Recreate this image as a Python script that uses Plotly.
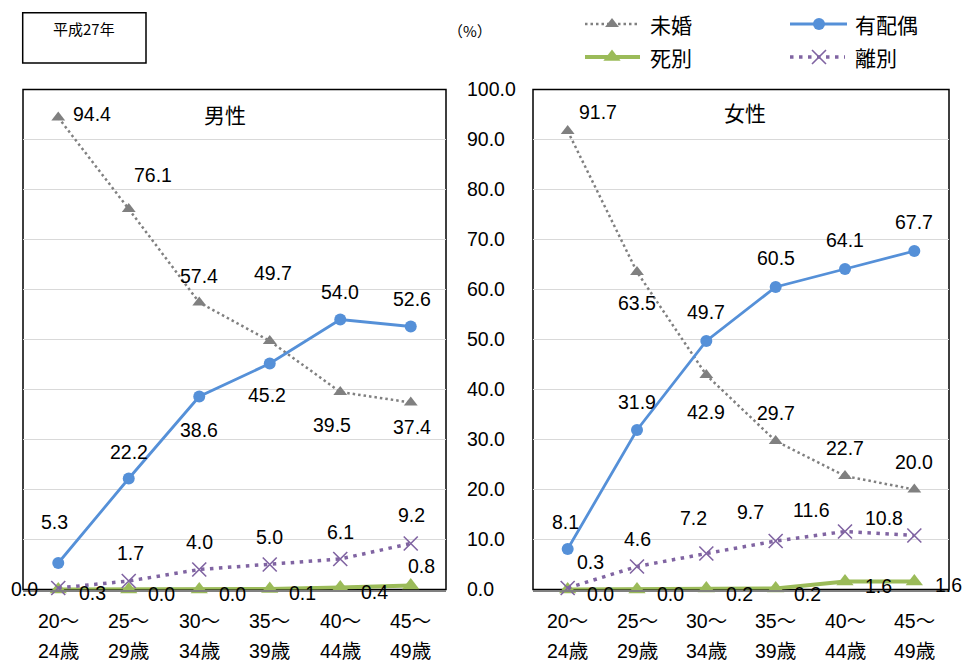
import plotly.graph_objects as go

# ---- data -------------------------------------------------------------
age_line1 = ["20～", "25～", "30～", "35～", "40～", "45～"]
age_line2 = ["24歳", "29歳", "34歳", "39歳", "44歳", "49歳"]

male_unmarried = [94.4, 76.1, 57.4, 49.7, 39.5, 37.4]
male_married = [5.3, 22.2, 38.6, 45.2, 54.0, 52.6]
male_widowed = [0.0, 0.0, 0.0, 0.1, 0.4, 0.8]
male_divorced = [0.3, 1.7, 4.0, 5.0, 6.1, 9.2]

female_unmarried = [91.7, 63.5, 42.9, 29.7, 22.7, 20.0]
female_married = [8.1, 31.9, 49.7, 60.5, 64.1, 67.7]
female_widowed = [0.0, 0.0, 0.2, 0.2, 1.6, 1.6]
female_divorced = [0.3, 4.6, 7.2, 9.7, 11.6, 10.8]

series_names = ["未婚", "有配偶", "死別", "離別"]
y_ticks = [0, 10, 20, 30, 40, 50, 60, 70, 80, 90, 100]

# ---- styling ------------------------------------------------------------
W, H = 972, 661
NUM_FONT = "Liberation Sans, Arial, Noto Sans CJK JP, sans-serif"
JP_FONT = "Noto Sans CJK JP, sans-serif"

GRAY = "#808080"
BLUE = "#5590D8"
GREEN = "#9BBB59"
PURPLE = "#8064A2"

styles = {
    "未婚": dict(line=dict(color=GRAY, width=2.5, dash="2.5px,3px"),
               marker=dict(symbol="triangle-up", size=12, color=GRAY)),
    "有配偶": dict(line=dict(color=BLUE, width=2.8),
                marker=dict(symbol="circle", size=12, color=BLUE)),
    "死別": dict(line=dict(color=GREEN, width=4),
               marker=dict(symbol="triangle-up", size=15, color=GREEN)),
    "離別": dict(line=dict(color=PURPLE, width=3.5, dash="3.5px,5.5px"),
               marker=dict(symbol="x-thin-open", size=14, color=PURPLE,
                           line=dict(color=PURPLE, width=1.6))),
}

# label offsets in pixels (dx right, dy down) relative to each point
male_offsets = {
    "未婚": [(34, -4), (24, -34), (0, -27), (3, -68), (-8, 33), (1, 24)],
    "有配偶": [(-4, -41), (0, -27), (0, 33), (-3, 31), (0, -28), (1, -28)],
    "死別": [(-34, -1), (33, 4), (33, 4), (33, 4), (34, 4), (11, -20)],
    "離別": [(34, 5), (2, -28), (0, -28), (0, -28), (0, -27), (1, -29)],
}
female_offsets = {
    "未婚": [(30, -19), (0, 31), (0, 37), (0, -28), (0, -28), (0, -28)],
    "有配偶": [(-2, -27), (0, -28), (0, -29), (0, -29), (0, -29), (0, -29)],
    "死別": [(33, 4), (33, 4), (33, 5), (32, 5), (33, 4), (34, 3)],
    "離別": [(23, -26), (0, -28), (-13, -36), (-25, -29), (-34, -22), (-30, -18)],
}


def px(x):
    return x / W


def py(y):
    return 1 - y / H


def paper_text(x, y, text, family, size, xanchor="center"):
    return dict(x=px(x), y=py(y), xref="paper", yref="paper", text=text,
                showarrow=False, xanchor=xanchor, yanchor="middle",
                font=dict(family=family, size=size, color="black"))


y_dom = [py(589.5), py(89.5)]
male_dom = [px(23), px(446)]
female_dom = [px(533), px(949)]

fig = go.Figure()

panels = [
    ("x", "y", dict(zip(series_names, [male_unmarried, male_married, male_widowed, male_divorced])), male_offsets),
    ("x2", "y2", dict(zip(series_names, [female_unmarried, female_married, female_widowed, female_divorced])), female_offsets),
]

annotations = []
draw_order = ["死別", "離別", "未婚", "有配偶"]
cats = list(range(len(age_line1)))

for xa, ya, data, offsets in panels:
    for name in draw_order:
        st = styles[name]
        fig.add_trace(go.Scatter(
            x=cats, y=data[name], mode="lines+markers", name=name,
            xaxis=xa, yaxis=ya, line=st["line"], marker=st["marker"],
            cliponaxis=False, showlegend=False, hoverinfo="skip",
        ))
    for name in series_names:
        for i, v in enumerate(data[name]):
            dx, dy = offsets[name][i]
            annotations.append(dict(
                x=i, y=v, xref=xa, yref=ya, text=f"{v:.1f}", showarrow=False,
                xshift=dx, yshift=-dy, xanchor="center", yanchor="middle",
                font=dict(family=NUM_FONT, size=19.5, color="black"),
            ))
    # category labels, two lines each
    for i in cats:
        for txt, yy in ((age_line1[i], 621), (age_line2[i], 651)):
            annotations.append(dict(x=i, y=py(yy), xref=xa, yref="paper", text=txt,
                                    showarrow=False, xanchor="center", yanchor="middle",
                                    font=dict(family=NUM_FONT, size=19.5, color="black")))

# panel titles, year box text and unit
annotations.append(paper_text(225, 114, "男性", JP_FONT, 21))
annotations.append(paper_text(745, 112, "女性", JP_FONT, 21))
annotations.append(paper_text(84, 29, "平成27年", JP_FONT, 15))
annotations.append(paper_text(470, 30, "（%）", JP_FONT, 15))

# legend, drawn on a pixel-mapped overlay axis
legend_items = [
    ("未婚", 585, 640, 24, 612, 648),
    ("有配偶", 790, 847, 24, 819, 853),
    ("死別", 585, 640, 57, 612, 648),
    ("離別", 790, 845, 57, 819, 853),
]
for name, x0, x1, yy, xm, xt in legend_items:
    st = styles[name]
    fig.add_trace(go.Scatter(x=[x0, x1], y=[yy, yy], mode="lines", line=st["line"],
                             xaxis="x3", yaxis="y3", showlegend=False, hoverinfo="skip"))
    fig.add_trace(go.Scatter(x=[xm], y=[yy], mode="markers", marker=st["marker"],
                             xaxis="x3", yaxis="y3", showlegend=False, hoverinfo="skip"))
    annotations.append(dict(x=xt, y=yy, xref="x3", yref="y3", text=name, showarrow=False,
                            xanchor="left", yanchor="middle",
                            font=dict(family=JP_FONT, size=21, color="black")))

shapes = [
    dict(type="rect", xref="paper", yref="paper", x0=px(22.7), x1=px(146), y0=py(63), y1=py(12.7),
         line=dict(color="black", width=1.5)),
    dict(type="rect", xref="x domain", yref="y domain", x0=0, x1=1, y0=0, y1=1,
         line=dict(color="black", width=1.5), layer="below"),
    dict(type="rect", xref="x2 domain", yref="y2 domain", x0=0, x1=1, y0=0, y1=1,
         line=dict(color="black", width=1.5), layer="below"),
]

cat_axis = dict(range=[-0.5, 5.5], showgrid=False, showticklabels=False, zeroline=False,
                showline=True, linecolor=GRAY, linewidth=1.5, ticks="", fixedrange=True,
                automargin=False)
val_axis = dict(range=[0, 100], tickvals=y_ticks, showgrid=True, gridcolor="#D9D9D9",
                gridwidth=1.2, zeroline=False, showline=False, fixedrange=True,
                automargin=False)

fig.update_layout(
    width=W, height=H, margin=dict(l=0, r=0, t=0, b=0, pad=0, autoexpand=False),
    paper_bgcolor="white", plot_bgcolor="rgba(0,0,0,0)",
    xaxis=dict(cat_axis, domain=male_dom, anchor="y"),
    yaxis=dict(val_axis, domain=y_dom, anchor="x", side="right", showticklabels=True,
               tickformat=".1f", ticks="", ticklabelstandoff=20,
               tickfont=dict(family=NUM_FONT, size=19.5, color="black")),
    xaxis2=dict(cat_axis, domain=female_dom, anchor="y2"),
    yaxis2=dict(val_axis, domain=y_dom, anchor="x2", showticklabels=False),
    xaxis3=dict(range=[0, W], domain=[0, 1], anchor="y3", visible=False, fixedrange=True,
                automargin=False),
    yaxis3=dict(range=[H, 0], domain=[0, 1], anchor="x3", visible=False, fixedrange=True,
                automargin=False),
    annotations=annotations, shapes=shapes, showlegend=False,
)

fig.write_html("out.html")
